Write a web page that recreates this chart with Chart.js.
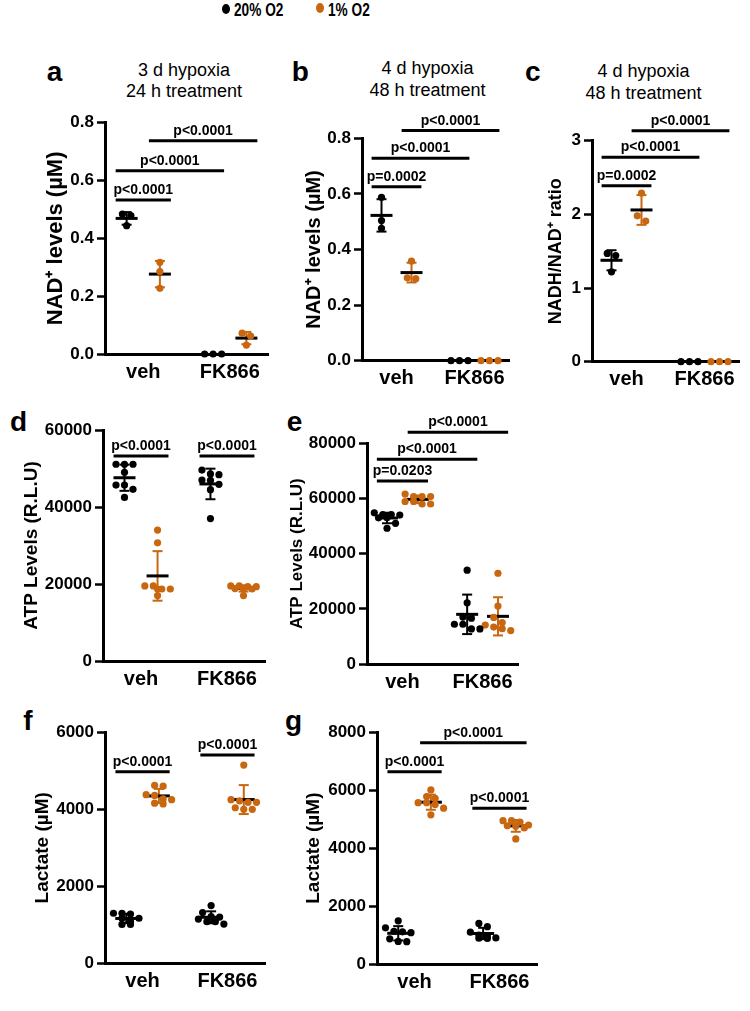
<!DOCTYPE html>
<html>
<head>
<meta charset="utf-8">
<script src="https://cdn.jsdelivr.net/npm/chart.js@4.4.1/dist/chart.umd.min.js"></script>
<style>
html, body { margin: 0; padding: 0; background: #fff; }
body { width: 750px; height: 1011px; position: relative; overflow: hidden; font-family: "Liberation Sans", Arial, sans-serif; color: #000; }
canvas { position: absolute; }
.pl { position: absolute; font-weight: bold; font-size: 28px; line-height: 28px; }
.tt { position: absolute; width: 200px; font-size: 18px; line-height: 21.6px; text-align: center; white-space: nowrap; }
.dot { position: absolute; width: 8px; height: 10px; border-radius: 50%; }
.lg { position: absolute; top: 1px; font-weight: bold; font-size: 18px; line-height: 18px; white-space: nowrap; transform: scaleX(0.76); transform-origin: left center; }
</style>
</head>
<body>
<div class="dot" style="left:221.5px;top:4px;background:#000"></div>
<div class="lg" style="left:234px">20% O2</div>
<div class="dot" style="left:316px;top:3.3px;background:#C8670F"></div>
<div class="lg" style="left:328px">1% O2</div>

<div class="pl" style="left:46.7px;top:58.3px">a</div>
<div class="pl" style="left:291.7px;top:58.3px">b</div>
<div class="pl" style="left:525px;top:58.3px">c</div>
<div class="pl" style="left:10px;top:408.3px">d</div>
<div class="pl" style="left:286.7px;top:408.3px">e</div>
<div class="pl" style="left:23.3px;top:707.3px">f</div>
<div class="pl" style="left:285px;top:707.3px">g</div>

<div class="tt" style="left:84px;top:59.7px">3 d hypoxia<br>24 h treatment</div>
<div class="tt" style="left:327.5px;top:58px">4 d hypoxia<br>48 h treatment</div>
<div class="tt" style="left:543.5px;top:61.3px">4 d hypoxia<br>48 h treatment</div>

<script>
const groups = ['veh', 'FK866'];
const series = ['20% O2', '1% O2'];
const colors = ['#000000', '#C8670F'];

// a: NAD+ levels, 3 d hypoxia / 24 h treatment
const aTicks = [0, 0.2, 0.4, 0.6, 0.8];
const aVeh20 = [0.484, 0.479, 0.444];
const aVeh1 = [0.317, 0.285, 0.227];
const aFk20 = [0, 0, 0];
const aFk1 = [0.072, 0.062, 0.031];
const aP = [[0, 1, 0.533, 'p<0.0001'], [0, 2, 0.634, 'p<0.0001'], [1, 3, 0.738, 'p<0.0001']];

// b: NAD+ levels, 4 d hypoxia / 48 h treatment
const bTicks = [0, 0.2, 0.4, 0.6, 0.8];
const bVeh20 = [0.588, 0.504, 0.476];
const bVeh1 = [0.358, 0.298, 0.295];
const bFk20 = [0, 0, 0];
const bFk1 = [0, 0, 0];
const bP = [[0, 1, 0.626, 'p=0.0002'], [0, 2, 0.728, 'p<0.0001'], [1, 3, 0.828, 'p<0.0001']];

// c: NADH/NAD+ ratio
const cTicks = [0, 1, 2, 3];
const cVeh20 = [1.47, 1.44, 1.22];
const cVeh1 = [2.29, 1.98, 1.91];
const cFk20 = [0, 0, 0];
const cFk1 = [0, 0, 0];
const cP = [[0, 1, 2.39, 'p=0.0002'], [0, 2, 2.775, 'p<0.0001'], [1, 3, 3.136, 'p<0.0001']];

// d: ATP levels
const dTicks = [0, 20000, 40000, 60000];
const dVeh20 = [51100, 51100, 51100, 49000, 45700, 45700, 44600, 42500];
const dVeh1 = [34000, 30700, 19500, 19500, 18700, 18700, 18700, 17000];
const dFk20 = [49600, 48600, 48400, 47000, 46900, 45900, 44500, 37000];
const dFk1 = [19500, 19500, 19300, 19300, 18800, 18700, 18700, 17000];
const dP = [[0, 1, 53250, 'p<0.0001'], [2, 3, 53250, 'p<0.0001']];

// e: ATP levels
const eTicks = [0, 20000, 40000, 60000, 80000];
const eVeh20 = [54800, 54200, 54200, 54000, 53000, 53000, 51000, 49200];
const eVeh1 = [61600, 60700, 60700, 60700, 58900, 58900, 58000, 58000];
const eFk20 = [34000, 22200, 17000, 16600, 14400, 14400, 12700, 12700];
const eFk1 = [32900, 21000, 16900, 15000, 14100, 13400, 12800, 12100];
const eP = [[0, 1, 66340, 'p=0.0203'], [0, 2, 74200, 'p<0.0001'], [1, 3, 84000, 'p<0.0001']];

// f: lactate
const fTicks = [0, 2000, 4000, 6000];
const fVeh20 = [1300, 1300, 1280, 1170, 1170, 1080, 1010, 1010];
const fVeh1 = [4620, 4600, 4380, 4360, 4270, 4250, 4160, 4140];
const fFk20 = [1500, 1320, 1210, 1200, 1150, 1080, 1080, 1020];
const fFk1 = [5150, 4250, 4220, 4180, 4180, 4040, 4000, 4000];
const fP = [[0, 1, 4976, 'p<0.0001'], [2, 3, 5410, 'p<0.0001']];

// g: lactate
const gTicks = [0, 2000, 4000, 6000, 8000];
const gVeh20 = [1490, 1250, 1130, 1110, 1080, 870, 780, 770];
const gVeh1 = [6010, 5780, 5720, 5570, 5570, 5510, 5380, 5150];
const gFk20 = [1400, 1290, 1100, 1000, 970, 900, 890, 880];
const gFk1 = [4950, 4950, 4900, 4800, 4770, 4760, 4700, 4320];
const gP = [[0, 1, 6640, 'p<0.0001'], [2, 3, 5376, 'p<0.0001'], [1, 3, 7642, 'p<0.0001']];

// column order: veh 20%, veh 1%, FK866 20%, FK866 1%
const columnX = [1, 2, 3.6, 4.6];
const groupX = [1.5, 4.1];
const X_MIN = 0.35, X_MAX = 5.25;

const panels = [
  { cols: [aVeh20, aVeh1, aFk20, aFk1], ticks: aTicks, p: aP, dec: 1, title: 'NAD⁺ levels (µM)', ts: 22, tx: 56, box: [0, 100, 285, 300], area: [105, 122.7, 268, 354] },
  { cols: [bVeh20, bVeh1, bFk20, bFk1], ticks: bTicks, p: bP, dec: 1, title: 'NAD⁺ levels (µM)', ts: 20, tx: 314, box: [285, 100, 240, 300], area: [362, 138.3, 509, 360.7] },
  { cols: [cVeh20, cVeh1, cFk20, cFk1], ticks: cTicks, p: cP, dec: 0, title: 'NADH/NAD⁺ ratio', ts: 18, tx: 556, box: [525, 100, 225, 300], area: [592, 140.7, 739, 361.7] },
  { cols: [dVeh20, dVeh1, dFk20, dFk1], ticks: dTicks, p: dP, dec: 0, title: 'ATP Levels (R.L.U)', ts: 19, tx: 32, box: [0, 400, 285, 300], area: [103, 430, 265, 661] },
  { cols: [eVeh20, eVeh1, eFk20, eFk1], ticks: eTicks, p: eP, dec: 0, title: 'ATP Levels (R.L.U)', ts: 17, tx: 297, box: [285, 400, 250, 300], area: [367, 443.3, 518, 664] },
  { cols: [fVeh20, fVeh1, fFk20, fFk1], ticks: fTicks, p: fP, dec: 0, title: 'Lactate (µM)', ts: 19, tx: 42.5, box: [0, 700, 285, 311], area: [105, 732.3, 265, 963.3] },
  { cols: [gVeh20, gVeh1, gFk20, gFk1], ticks: gTicks, p: gP, dec: 0, title: 'Lactate (µM)', ts: 19, tx: 314, box: [285, 700, 265, 311], area: [377, 732.3, 537, 964] },
];

Chart.defaults.font.family = '"Liberation Sans", Arial, sans-serif';
Chart.defaults.color = '#000';

function mean(v) { return v.reduce((a, b) => a + b, 0) / v.length; }
function sd(v) {
  const m = mean(v);
  return Math.sqrt(v.reduce((a, b) => a + (b - m) * (b - m), 0) / (v.length - 1));
}

// spread points with close values side by side, like a column scatter
function swarm(vals, cx, ppx, ppy) {
  const sorted = vals.slice().sort((a, b) => b - a);
  const rows = [];
  sorted.forEach(v => {
    const row = rows[rows.length - 1];
    if (row && (row[0] - v) * ppy < 6 && row.length < 4) row.push(v);
    else rows.push([v]);
  });
  return rows.flatMap(row => row.map((v, i) => ({ x: cx + (i - (row.length - 1) / 2) * 8.5 / ppx, y: v })));
}

function line(ctx, x1, y1, x2, y2) {
  ctx.beginPath(); ctx.moveTo(x1, y1); ctx.lineTo(x2, y2); ctx.stroke();
}

const statsPlugin = {
  id: 'stats',
  beforeDatasetsDraw(chart, args, opts) {
    const { ctx, scales: { x, y } } = chart;
    ctx.save();
    opts.cols.forEach((vals, c) => {
      const m = mean(vals), s = sd(vals);
      if (m === 0 && s === 0) return;
      const cx = x.getPixelForValue(columnX[c]);
      const yt = y.getPixelForValue(m + s), yb = y.getPixelForValue(m - s), ym = y.getPixelForValue(m);
      ctx.strokeStyle = colors[c % 2];
      ctx.lineWidth = 2;
      line(ctx, cx, yt, cx, yb);
      line(ctx, cx - 5, yt, cx + 5, yt);
      line(ctx, cx - 5, yb, cx + 5, yb);
      ctx.strokeStyle = '#000';
      ctx.lineWidth = 3;
      line(ctx, cx - 11, ym, cx + 11, ym);
    });
    ctx.restore();
  },
  afterDraw(chart, args, opts) {
    const { ctx, scales: { x, y } } = chart;
    ctx.save();
    ctx.strokeStyle = '#000';
    ctx.fillStyle = '#000';
    ctx.lineWidth = 3;
    ctx.font = 'bold 14px "Liberation Sans", Arial, sans-serif';
    ctx.textAlign = 'center';
    ctx.textBaseline = 'alphabetic';
    opts.p.forEach(([a, b, v, label]) => {
      const x1 = x.getPixelForValue(columnX[a] - 0.33), x2 = x.getPixelForValue(columnX[b] + 0.33);
      const py = y.getPixelForValue(v);
      line(ctx, x1, py, x2, py);
      ctx.fillText(label, (x1 + x2) / 2, py - 6);
    });
    ctx.restore();
  }
};

panels.forEach(pn => {
  const [bx, by, bw, bh] = pn.box;
  const [al, at, ar, ab] = pn.area;
  const cv = document.createElement('canvas');
  cv.width = bw; cv.height = bh;
  cv.style.left = bx + 'px'; cv.style.top = by + 'px';
  document.body.appendChild(cv);
  const ymin = pn.ticks[0], ymax = pn.ticks[pn.ticks.length - 1];
  const ppx = (ar - al) / (X_MAX - X_MIN);
  const ppy = (ab - at) / (ymax - ymin);
  const datasets = series.map((name, s) => ({
    label: name,
    data: [s, s + 2].flatMap(c => swarm(pn.cols[c], columnX[c], ppx, ppy)),
    backgroundColor: colors[s],
    borderWidth: 0,
    pointRadius: 3.6,
    pointHoverRadius: 3.6,
    clip: false
  }));
  const lh = pn.ts * 1.2;
  new Chart(cv, {
    type: 'scatter',
    data: { datasets },
    plugins: [statsPlugin],
    options: {
      responsive: false,
      animation: false,
      events: [],
      layout: { padding: { left: 0, top: at - by, right: bx + bw - ar, bottom: 0 } },
      plugins: {
        legend: { display: false },
        tooltip: { enabled: false },
        stats: { cols: pn.cols, p: pn.p }
      },
      scales: {
        x: {
          type: 'linear', min: X_MIN, max: X_MAX,
          afterBuildTicks: s => { s.ticks = groupX.map(v => ({ value: v })); },
          afterFit: s => { s.height = by + bh - ab; },
          ticks: { callback: (v, i) => groups[i], font: { size: 20, weight: 'bold' }, padding: 6, maxRotation: 0, autoSkip: false },
          grid: { display: false, drawTicks: false },
          border: { display: true, color: '#000', width: 3 }
        },
        y: {
          type: 'linear', min: ymin, max: ymax,
          afterBuildTicks: s => { s.ticks = pn.ticks.map(v => ({ value: v })); },
          afterFit: s => { s.width = al - bx; },
          ticks: { callback: v => pn.dec ? v.toFixed(pn.dec) : String(v), font: { size: 17, weight: 'bold' }, padding: 3 },
          grid: { display: true, drawOnChartArea: false, drawTicks: true, tickLength: 8, tickWidth: 2.5, tickColor: '#000', color: '#000' },
          border: { display: true, color: '#000', width: 3 },
          title: { display: true, text: pn.title, font: { size: pn.ts, weight: 'bold' }, padding: { top: pn.tx - bx - lh / 2, bottom: 0 } }
        }
      }
    }
  });
});
</script>
</body>
</html>
